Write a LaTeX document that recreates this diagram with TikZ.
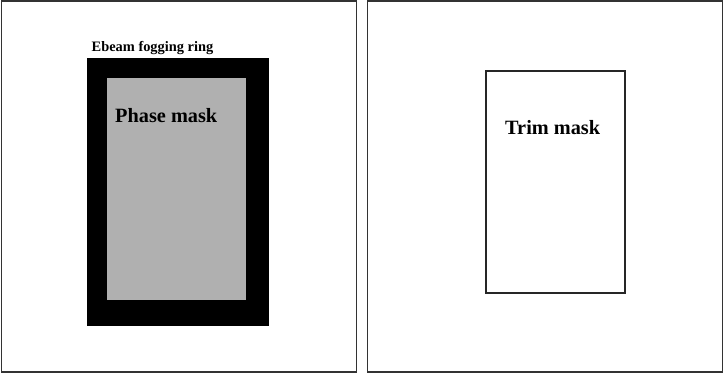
\documentclass[tikz,border=0pt]{standalone}
\usepackage{fontspec}
\setmainfont{Liberation Serif}
\usetikzlibrary{positioning}

\begin{document}
\begin{tikzpicture}[x=1pt,y=-1pt,
  panel/.style={draw=black!80,line width=1.2pt},
  masklabel/.style={font=\fontsize{20.3}{20.3}\selectfont\bfseries,inner sep=0pt}]
\useasboundingbox (0,0) rectangle (724,373);
\fill[white] (0,0) rectangle (724,373);
% two panels
\draw[panel] (1.5,1) rectangle (356.5,372);
\draw[panel] (367.5,1) rectangle (722.5,372);
% left: phase mask with fogging ring
\fill[black] (87,58) rectangle (269,326);
\fill[black!31] (107,78) rectangle (246,300);
\node[font=\fontsize{14.4}{14.4}\selectfont\bfseries,inner sep=0pt,anchor=base west] (ringlbl) at (91.5,51) {Ebeam fogging ring};
\node[masklabel,anchor=base west] (phaselbl) at (115,122) {Phase mask};
% right: trim mask
\draw[line width=1.5pt,black!85] (486,71) rectangle (625,293);
\node[masklabel,anchor=base west] (trimlbl) at (505,134.5) {Trim mask};
\end{tikzpicture}
\end{document}
